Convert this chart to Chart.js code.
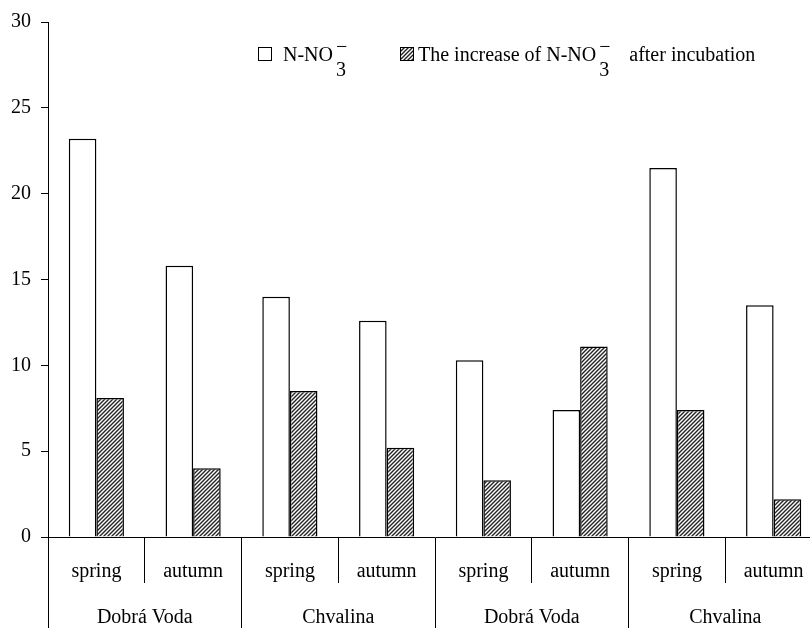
<!DOCTYPE html>
<html>
  <head>
    <style>
      html, body {
        margin: 0;
        background: #fff;
        overflow: hidden;
      }
      #chart-container {
        width: 822px;
        height: 628px;
        position: relative;
      }
    </style>
  </head>
  <body>
    <div id="chart-container">
      <canvas id="chart"></canvas>
    </div>

    <script src="https://cdn.jsdelivr.net/npm/chart.js"></script>
    <script>
      // data
      const seasons = ["spring", "autumn", "spring", "autumn", "spring", "autumn", "spring", "autumn"];
      const sites = ["Dobrá Voda", "Chvalina", "Dobrá Voda", "Chvalina"];
      const nitrate = [23.2, 15.8, 14.0, 12.6, 10.3, 7.4, 21.5, 13.5];
      const nitrateIncrease = [8.1, 4.0, 8.5, 5.2, 3.3, 11.1, 7.4, 2.2];
      const yTicks = [0, 5, 10, 15, 20, 25, 30];

      const FONT = "Liberation Serif";

      // diagonal hatch like the original figure
      function hatchPattern() {
        const c = document.createElement("canvas");
        c.width = 4;
        c.height = 4;
        const g = c.getContext("2d");
        g.fillStyle = "#fff";
        g.fillRect(0, 0, 4, 4);
        g.strokeStyle = "#222";
        g.lineWidth = 1.4;
        g.beginPath();
        g.moveTo(-1, 5); g.lineTo(5, -1);
        g.moveTo(-1, 1); g.lineTo(1, -1);
        g.moveTo(3, 5); g.lineTo(5, 3);
        g.stroke();
        return g.createPattern(c, "repeat");
      }

      // legend with the subscript 3 and the minus sign
      const noteLegend = {
        id: "noteLegend",
        afterDraw(chart, args, opts) {
          const ctx = chart.ctx;
          opts.items.forEach(function (item, i) {
            const ds = chart.data.datasets[i];
            ctx.save();
            ctx.fillStyle = ds.backgroundColor;
            ctx.fillRect(item.box, opts.y, 13, 13);
            ctx.strokeStyle = "#000";
            ctx.lineWidth = 1;
            ctx.strokeRect(item.box + 0.5, opts.y + 0.5, 13, 13);

            ctx.fillStyle = "#000";
            ctx.font = "20px " + FONT;
            ctx.textBaseline = "alphabetic";
            let x = item.text;
            ctx.fillText(item.before, x, opts.y + 14);
            x += ctx.measureText(item.before).width + 3;
            ctx.fillText("3", x, opts.y + 29);
            ctx.fillText("\u2212", x, opts.y + 6);
            x += ctx.measureText("3").width + 20;
            if (item.after) ctx.fillText(item.after, x, opts.y + 14);
            ctx.restore();
          });
        }
      };

      const canvas = document.getElementById("chart");

      new Chart(canvas, {
        type: "bar",
        data: {
          labels: seasons,
          datasets: [
            {
              label: "N-NO\u2083\u207B",
              data: nitrate,
              backgroundColor: "#fff",
              borderColor: "#000",
              borderWidth: 1.5
            },
            {
              label: "The increase of N-NO\u2083\u207B after incubation",
              data: nitrateIncrease,
              backgroundColor: hatchPattern(),
              borderColor: "#000",
              borderWidth: 1.5
            }
          ]
        },
        options: {
          responsive: true,
          maintainAspectRatio: false,
          animation: false,
          categoryPercentage: 0.57,
          barPercentage: 1,
          layout: {
            padding: { top: 19, left: 0, right: 0, bottom: 0 }
          },
          plugins: {
            legend: { display: false },
            tooltip: { enabled: false },
            noteLegend: {
              y: 47,
              items: [
                { box: 258, text: 283, before: "N-NO", after: "" },
                { box: 400, text: 418, before: "The increase of N-NO", after: "after incubation" }
              ]
            }
          },
          scales: {
            x: {
              weight: 0,
              grid: {
                offset: true,
                drawOnChartArea: false,
                tickLength: 46,
                color: "#000",
                lineWidth: 1
              },
              border: { display: true, color: "#000", width: 1 },
              ticks: {
                padding: -23,
                maxRotation: 0,
                autoSkip: false,
                color: "#000",
                font: { family: FONT, size: 20 }
              },
              afterFit: function (scale) { scale.height = 46; }
            },
            x2: {
              type: "category",
              labels: sites,
              position: "bottom",
              weight: 1,
              offset: true,
              grid: {
                offset: true,
                drawOnChartArea: false,
                tickLength: 50,
                color: "#000",
                lineWidth: 1
              },
              border: { display: false },
              ticks: {
                padding: -27,
                maxRotation: 0,
                autoSkip: false,
                color: "#000",
                font: { family: FONT, size: 20 }
              },
              afterFit: function (scale) { scale.height = 45; }
            },
            y: {
              min: 0,
              max: 30,
              afterBuildTicks: function (scale) {
                scale.ticks = yTicks.map(v => ({ value: v }));
              },
              grid: {
                drawOnChartArea: false,
                tickLength: 7,
                color: "#000",
                lineWidth: 1
              },
              border: { display: true, color: "#000", width: 1 },
              ticks: {
                padding: 10,
                color: "#000",
                font: { family: FONT, size: 20 }
              },
              afterFit: function (scale) { scale.width = 48; }
            }
          }
        },
        plugins: [noteLegend]
      });
    </script>
  </body>
</html>
